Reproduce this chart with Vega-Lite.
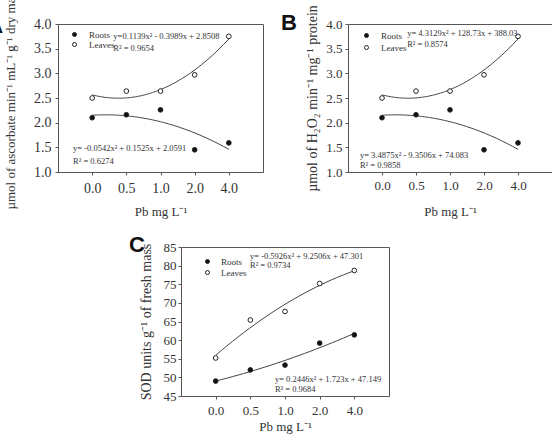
{
  "$schema": "https://vega.github.io/schema/vega-lite/v6.json",
  "background": "white",
  "padding": {"left": -14, "top": -14, "right": 0, "bottom": 0},
  "config": {
    "view": {"stroke": "#555", "strokeWidth": 1},
    "font": "Liberation Serif",
    "axis": {
      "labelFont": "Liberation Serif", "titleFont": "Liberation Serif",
      "labelColor": "#333", "titleColor": "#333", "titleFontWeight": "normal",
      "grid": false, "domain": false, "tickColor": "#555", "tickSize": 3,
      "labelFlush": false, "labelOverlap": false
    }
  },
  "datasets": {
    "ab": [
      {"idx": 1, "dose": "0.0", "series": "Roots", "value": 2.10},
      {"idx": 2, "dose": "0.5", "series": "Roots", "value": 2.16},
      {"idx": 3, "dose": "1.0", "series": "Roots", "value": 2.26},
      {"idx": 4, "dose": "2.0", "series": "Roots", "value": 1.45},
      {"idx": 5, "dose": "4.0", "series": "Roots", "value": 1.59},
      {"idx": 1, "dose": "0.0", "series": "Leaves", "value": 2.50},
      {"idx": 2, "dose": "0.5", "series": "Leaves", "value": 2.64},
      {"idx": 3, "dose": "1.0", "series": "Leaves", "value": 2.64},
      {"idx": 4, "dose": "2.0", "series": "Leaves", "value": 2.97},
      {"idx": 5, "dose": "4.0", "series": "Leaves", "value": 3.75}
    ],
    "c": [
      {"idx": 1, "dose": "0.0", "series": "Roots", "value": 49.0},
      {"idx": 2, "dose": "0.5", "series": "Roots", "value": 52.0},
      {"idx": 3, "dose": "1.0", "series": "Roots", "value": 53.3},
      {"idx": 4, "dose": "2.0", "series": "Roots", "value": 59.2},
      {"idx": 5, "dose": "4.0", "series": "Roots", "value": 61.4},
      {"idx": 1, "dose": "0.0", "series": "Leaves", "value": 55.2},
      {"idx": 2, "dose": "0.5", "series": "Leaves", "value": 65.4},
      {"idx": 3, "dose": "1.0", "series": "Leaves", "value": 67.7},
      {"idx": 4, "dose": "2.0", "series": "Leaves", "value": 75.2},
      {"idx": 5, "dose": "4.0", "series": "Leaves", "value": 78.7}
    ],
    "eqA": [
      {"idx": 1.62, "value": 3.76, "label": "y=0.1139x² - 0.3989x + 2.8508"},
      {"idx": 1.62, "value": 3.51, "label": "R² = 0.9654"},
      {"idx": 0.44, "value": 1.49, "label": "y= -0.0542x² + 0.1525x + 2.0591"},
      {"idx": 0.44, "value": 1.22, "label": "R² = 0.6274"}
    ],
    "eqB": [
      {"idx": 1.74, "value": 3.82, "label": "y= 4.3129x² + 128.73x + 388.03"},
      {"idx": 1.74, "value": 3.59, "label": "R² = 0.8574"},
      {"idx": 0.35, "value": 1.34, "label": "y= 3.4875x² - 9.3506x + 74.083"},
      {"idx": 0.35, "value": 1.14, "label": "R² = 0.9858"}
    ],
    "eqC": [
      {"idx": 1.99, "value": 82.6, "label": "y= -0.5926x² + 9.2506x + 47.301"},
      {"idx": 1.99, "value": 80.2, "label": "R² = 0.9734"},
      {"idx": 2.71, "value": 49.6, "label": "y= 0.2446x² + 1.723x + 47.149"},
      {"idx": 2.71, "value": 46.9, "label": "R² = 0.9684"}
    ]
  },
  "bounds": "flush",
  "spacing": 223,
  "resolve": {"scale": {"fill": "independent"}, "legend": {"fill": "independent"}},
  "vconcat": [
    {
      "bounds": "flush",
      "spacing": 85,
      "resolve": {"scale": {"fill": "independent"}, "legend": {"fill": "independent"}},
      "hconcat": [
        {
          "width": 205, "height": 148,
          "encoding": {
            "x": {"field": "idx", "type": "quantitative", "scale": {"domain": [0, 6], "nice": false, "zero": false},
                  "axis": {"values": [1, 2, 3, 4, 5], "labelExpr": "['','0.0','0.5','1.0','2.0','4.0'][datum.value]", "title": "Pb mg L⁻¹", "labelFontSize": 14, "labelPadding": 6, "titlePadding": 10, "titleFontSize": 13}},
            "y": {"field": "value", "type": "quantitative", "scale": {"domain": [1, 4], "nice": false, "zero": false},
                  "axis": {"values": [1, 1.5, 2, 2.5, 3, 3.5, 4], "format": ".1f", "title": "µmol of ascorbate min⁻¹ mL⁻¹ g⁻¹ dry mass", "labelFontSize": 14, "labelPadding": 4, "titlePadding": 16, "titleFontSize": 13}}
          },
          "layer": [
            {
              "data": {"name": "ab"},
              "transform": [{"regression": "value", "on": "idx", "groupby": ["series"], "method": "poly", "order": 2, "extent": [1, 5]}],
              "mark": {"type": "line", "color": "#444", "strokeWidth": 1},
              "encoding": {"detail": {"field": "series"}}
            },
            {
              "data": {"name": "ab"},
              "mark": {"type": "point", "shape": "circle", "size": 22, "stroke": "#222", "strokeWidth": 1, "opacity": 1},
              "encoding": {
                "fill": {"field": "series", "type": "nominal", "scale": {"domain": ["Roots", "Leaves"], "range": ["#111", "white"]},
                         "legend": {"orient": "none", "legendX": 12, "legendY": 6, "title": null, "symbolType": "circle", "symbolSize": 16, "symbolStrokeColor": "#222", "symbolStrokeWidth": 1, "labelFont": "Liberation Serif", "labelFontSize": 9, "labelOffset": 10, "rowPadding": 0, "padding": 0, "labelColor": "#333"}}
              }
            },
            {
              "data": {"name": "eqA"},
              "mark": {"type": "text", "align": "left", "baseline": "middle", "fontSize": 8.5, "font": "Liberation Serif", "color": "#333"},
              "encoding": {"text": {"field": "label"}}
            },
            {
              "data": {"values": [{"idx": -1.84, "value": 3.96, "label": "A"}]},
              "mark": {"type": "text", "align": "center", "baseline": "middle", "fontSize": 22, "font": "Liberation Sans", "fontWeight": "bold", "color": "#111"},
              "encoding": {"text": {"field": "label"}}
            }
          ]
        },
        {
          "width": 204, "height": 148,
          "encoding": {
            "x": {"field": "idx", "type": "quantitative", "scale": {"domain": [0, 6], "nice": false, "zero": false},
                  "axis": {"values": [1, 2, 3, 4, 5], "labelExpr": "['','0.0','0.5','1.0','2.0','4.0'][datum.value]", "title": "Pb mg L⁻¹", "labelFontSize": 13, "labelPadding": 4, "titlePadding": 13, "titleFontSize": 13}},
            "y": {"field": "value", "type": "quantitative", "scale": {"domain": [1, 4], "nice": false, "zero": false},
                  "axis": {"values": [1, 1.5, 2, 2.5, 3, 3.5, 4], "format": ".1f", "title": "µmol of H₂O₂ min⁻¹ mg⁻¹ protein", "labelFontSize": 13, "labelPadding": 3, "titlePadding": 6, "titleFontSize": 14}}
          },
          "layer": [
            {
              "data": {"name": "ab"},
              "transform": [{"regression": "value", "on": "idx", "groupby": ["series"], "method": "poly", "order": 2, "extent": [1, 5]}],
              "mark": {"type": "line", "color": "#444", "strokeWidth": 1},
              "encoding": {"detail": {"field": "series"}}
            },
            {
              "data": {"name": "ab"},
              "mark": {"type": "point", "shape": "circle", "size": 22, "stroke": "#222", "strokeWidth": 1, "opacity": 1},
              "encoding": {
                "fill": {"field": "series", "type": "nominal", "scale": {"domain": ["Roots", "Leaves"], "range": ["#111", "white"]},
                         "legend": {"orient": "none", "legendX": 14, "legendY": 7, "title": null, "symbolType": "circle", "symbolSize": 16, "symbolStrokeColor": "#222", "symbolStrokeWidth": 1, "labelFont": "Liberation Serif", "labelFontSize": 9, "labelOffset": 10, "rowPadding": 2, "padding": 0, "labelColor": "#333"}}
              }
            },
            {
              "data": {"name": "eqB"},
              "mark": {"type": "text", "align": "left", "baseline": "middle", "fontSize": 8.5, "font": "Liberation Serif", "color": "#333"},
              "encoding": {"text": {"field": "label"}}
            },
            {
              "data": {"values": [{"idx": -1.74, "value": 4.03, "label": "B"}]},
              "mark": {"type": "text", "align": "center", "baseline": "middle", "fontSize": 22, "font": "Liberation Sans", "fontWeight": "bold", "color": "#111"},
              "encoding": {"text": {"field": "label"}}
            }
          ]
        }
      ]
    },
    {
      "bounds": "flush",
      "spacing": 23,
      "resolve": {"scale": {"fill": "independent"}, "legend": {"fill": "independent"}},
      "hconcat": [
        {
          "width": 100, "height": 149,
          "data": {"values": []},
          "mark": "point",
          "view": {"stroke": null}
        },
        {
          "width": 208, "height": 149,
          "encoding": {
            "x": {"field": "idx", "type": "quantitative", "scale": {"domain": [0, 6], "nice": false, "zero": false},
                  "axis": {"values": [1, 2, 3, 4, 5], "labelExpr": "['','0.0','0.5','1.0','2.0','4.0'][datum.value]", "title": "Pb mg L⁻¹", "labelFontSize": 13, "labelPadding": 5, "titlePadding": 3, "titleFontSize": 13}},
            "y": {"field": "value", "type": "quantitative", "scale": {"domain": [45, 85], "nice": false, "zero": false},
                  "axis": {"values": [45, 50, 55, 60, 65, 70, 75, 80, 85], "title": "SOD units g⁻¹ of fresh mass", "labelFontSize": 13, "labelPadding": 2, "titlePadding": 10, "titleFontSize": 14}}
          },
          "layer": [
            {
              "data": {"name": "c"},
              "transform": [{"regression": "value", "on": "idx", "groupby": ["series"], "method": "poly", "order": 2, "extent": [1, 5]}],
              "mark": {"type": "line", "color": "#444", "strokeWidth": 1},
              "encoding": {"detail": {"field": "series"}}
            },
            {
              "data": {"name": "c"},
              "mark": {"type": "point", "shape": "circle", "size": 22, "stroke": "#222", "strokeWidth": 1, "opacity": 1},
              "encoding": {
                "fill": {"field": "series", "type": "nominal", "scale": {"domain": ["Roots", "Leaves"], "range": ["#111", "white"]},
                         "legend": {"orient": "none", "legendX": 22, "legendY": 10, "title": null, "symbolType": "circle", "symbolSize": 16, "symbolStrokeColor": "#222", "symbolStrokeWidth": 1, "labelFont": "Liberation Serif", "labelFontSize": 9, "labelOffset": 9, "rowPadding": 1, "padding": 0, "labelColor": "#333"}}
              }
            },
            {
              "data": {"name": "eqC"},
              "mark": {"type": "text", "align": "left", "baseline": "middle", "fontSize": 8.5, "font": "Liberation Serif", "color": "#333"},
              "encoding": {"text": {"field": "label"}}
            },
            {
              "data": {"values": [{"idx": -1.27, "value": 85.5, "label": "C"}]},
              "mark": {"type": "text", "align": "center", "baseline": "middle", "fontSize": 22, "font": "Liberation Sans", "fontWeight": "bold", "color": "#111"},
              "encoding": {"text": {"field": "label"}}
            }
          ]
        }
      ]
    }
  ]
}
